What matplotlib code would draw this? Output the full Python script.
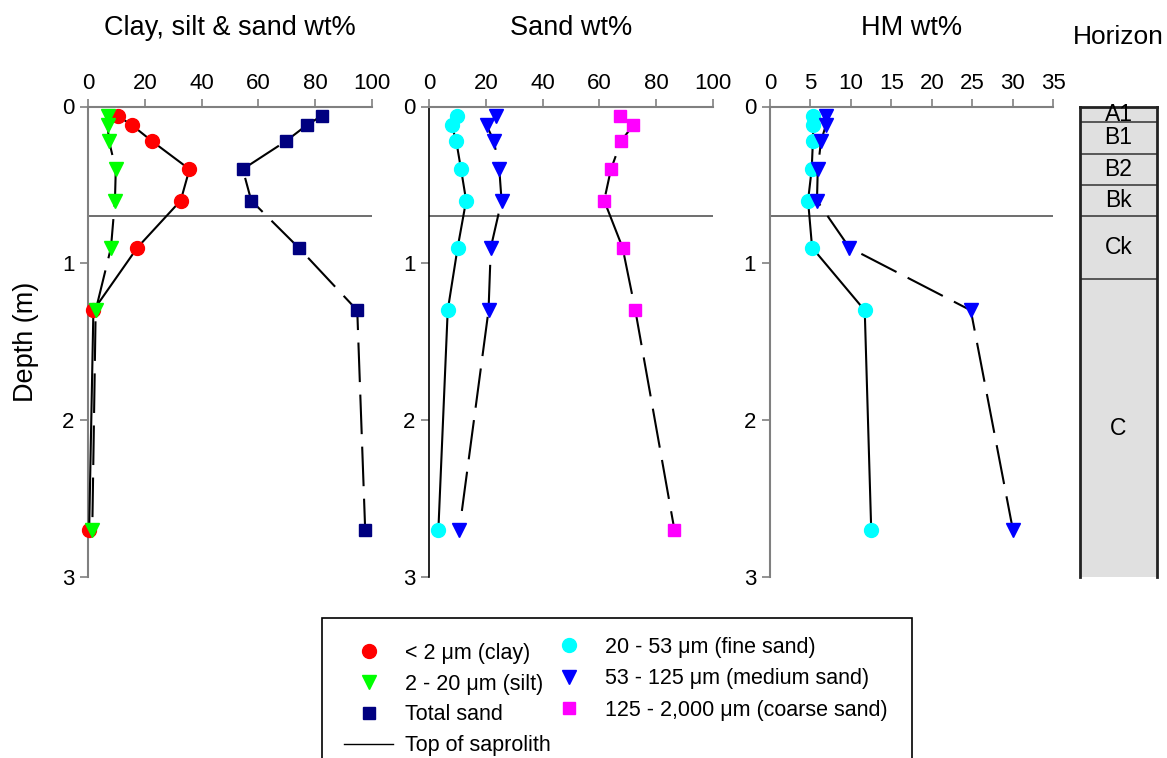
import matplotlib
matplotlib.use("Agg")
import matplotlib.pyplot as plt
from matplotlib.lines import Line2D
from matplotlib.patches import Rectangle

plt.rcParams['font.family'] = ['Liberation Sans', 'DejaVu Sans']

# sample depths (m)
depth = [0.06, 0.12, 0.22, 0.40, 0.60, 0.90, 1.30, 2.70]

# clay, silt & sand wt%
clay = [10.4, 15.5, 22.4, 35.7, 32.6, 17.3, 1.8, 0.3]
silt = [7.1, 6.8, 7.3, 9.7, 9.4, 8.0, 2.6, 1.4]
total_sand = [82.3, 77.0, 69.8, 54.5, 57.5, 74.2, 94.9, 97.7]

# sand wt%
fine_sand = [9.7, 7.9, 9.5, 11.2, 13.0, 10.0, 6.5, 3.2]
medium_sand = [23.5, 20.2, 22.8, 24.7, 25.5, 21.7, 20.9, 10.6]
coarse_sand = [67.2, 71.9, 67.7, 64.1, 61.7, 68.2, 72.7, 86.5]

# heavy minerals wt%
hm_fine = [5.35, 5.35, 5.3, 5.15, 4.7, 5.2, 11.7, 12.5]
hm_medium = [6.9, 6.9, 6.3, 5.9, 5.8, 9.8, 24.8, 30.0]

# soil horizons
horizon_names = ['A1', 'B1', 'B2', 'Bk', 'Ck', 'C']
horizon_top = [0.0, 0.1, 0.3, 0.5, 0.7, 1.1]
horizon_bottom = [0.1, 0.3, 0.5, 0.7, 1.1, 3.0]

saprolith_top = 0.70

W, H = 1167, 758
fig = plt.figure(figsize=(W / 100, H / 100), dpi=100)

top_px, bot_px = 106.5, 577
b = 1 - bot_px / H
h = (bot_px - top_px) / H
pw = 283.4 / W

ax1 = fig.add_axes([88.3 / W, b, pw, h])
ax2 = fig.add_axes([429.3 / W, b, pw, h])
ax3 = fig.add_axes([770.0 / W, b, pw, h])
axh = fig.add_axes([1080.0 / W, b, 77.0 / W, h])

dash = (0, (19, 6))
lw = 1.5


def series(ax, x, color, marker, ms, ls):
    ax.plot(x, depth, color='black', lw=lw, ls=ls, marker=marker, ms=ms,
            mfc=color, mec=color, clip_on=False, zorder=3)


# panel 1
series(ax1, clay, '#ff0000', 'o', 10, '-')
series(ax1, silt, '#00ff00', 'v', 10, dash)
series(ax1, total_sand, '#000080', 's', 9, dash)

# panel 2
series(ax2, fine_sand, '#00ffff', 'o', 10, '-')
series(ax2, medium_sand, '#0000ff', 'v', 10, dash)
series(ax2, coarse_sand, '#ff00ff', 's', 9, dash)

# panel 3
series(ax3, hm_fine, '#00ffff', 'o', 10, '-')
series(ax3, hm_medium, '#0000ff', 'v', 10, dash)

limits = [(0, 100, 20), (0, 100, 20), (0, 35, 5)]
titles = ['Clay, silt & sand wt%', 'Sand wt%', 'HM wt%']
for ax, (lo, hi, step), title in zip([ax1, ax2, ax3], limits, titles):
    ax.set_xlim(lo, hi)
    ax.set_ylim(3, 0)
    ax.set_xticks(range(lo, hi + 1, step))
    ax.set_yticks([0, 1, 2, 3])
    ax.xaxis.tick_top()
    ax.tick_params(axis='x', direction='out', length=6, width=1.2,
                   color='#808080', pad=3, labelsize=16)
    ax.tick_params(axis='y', direction='out', length=6, width=1.2,
                   color='#808080', pad=4, labelsize=16)
    for s in ['right', 'bottom']:
        ax.spines[s].set_visible(False)
    for s in ['top', 'left']:
        ax.spines[s].set_color('#808080')
        ax.spines[s].set_linewidth(1.5)
    ax.axhline(saprolith_top, color='#555555', lw=1.2, zorder=2)
    pos = ax.get_position()
    fig.text(pos.x0 + pos.width / 2, 1 - 28 / H, title, ha='center',
             va='center', fontsize=19.5)

ax2.spines['left'].set_color('black')
ax2.spines['left'].set_linewidth(1.2)

ax1.set_ylabel('Depth (m)', fontsize=19.5)
ax1.yaxis.set_label_coords(-0.175, 0.5)

# horizon column
centers = [(t + bt) / 2 for t, bt in zip(horizon_top, horizon_bottom)]
heights = [bt - t for t, bt in zip(horizon_top, horizon_bottom)]
axh.barh(centers, [1] * len(centers), height=heights, left=0,
         color='#e0e0e0', edgecolor='none')
for bt in horizon_bottom[:-1]:
    axh.axhline(bt, color='#404040', lw=1.2)
for name, c in zip(horizon_names, centers):
    axh.text(0.5, c, name, ha='center', va='center', fontsize=16.5)
axh.set_xlim(0, 1)
axh.set_ylim(3, 0)
axh.set_xticks([])
axh.set_yticks([])
axh.spines['bottom'].set_visible(False)
for s in ['left', 'right', 'top']:
    axh.spines[s].set_linewidth(2)
    axh.spines[s].set_color('#222222')
fig.text(1118 / W, 1 - 37 / H, 'Horizon', ha='center', va='center',
         fontsize=19)

# legend
h1 = [
    Line2D([], [], ls='none', marker='o', ms=10, mfc='#ff0000', mec='#ff0000'),
    Line2D([], [], ls='none', marker='v', ms=10, mfc='#00ff00', mec='#00ff00'),
    Line2D([], [], ls='none', marker='s', ms=9, mfc='#000080', mec='#000080'),
    Line2D([], [], color='black', lw=1),
]
l1 = ['< 2 \u03bcm (clay)', '2 - 20 \u03bcm (silt)', 'Total sand',
      'Top of saprolith']
h2 = [
    Line2D([], [], ls='none', marker='o', ms=10, mfc='#00ffff', mec='#00ffff'),
    Line2D([], [], ls='none', marker='v', ms=10, mfc='#0000ff', mec='#0000ff'),
    Line2D([], [], ls='none', marker='s', ms=9, mfc='#ff00ff', mec='#ff00ff'),
]
l2 = ['20 - 53 \u03bcm (fine sand)', '53 - 125 \u03bcm (medium sand)',
      '125 - 2,000 \u03bcm (coarse sand)']

fig.legend(h1, l1, loc='upper left', bbox_to_anchor=(344 / W, 1 - 643 / H),
           frameon=False, fontsize=15.5, handlelength=2.28,
           handletextpad=0.56, labelspacing=0.45, borderpad=0,
           borderaxespad=0)
fig.legend(h2, l2, loc='upper left', bbox_to_anchor=(544.5 / W, 1 - 637 / H),
           frameon=False, fontsize=15.5, handlelength=2.28,
           handletextpad=0.53, labelspacing=0.48, borderpad=0,
           borderaxespad=0)
fig.add_artist(Rectangle((322 / W, -0.02), 590 / W, (758 - 618) / H + 0.02,
                         transform=fig.transFigure, fill=False,
                         edgecolor='black', lw=1.2))

fig.savefig('out.png', dpi=100)
